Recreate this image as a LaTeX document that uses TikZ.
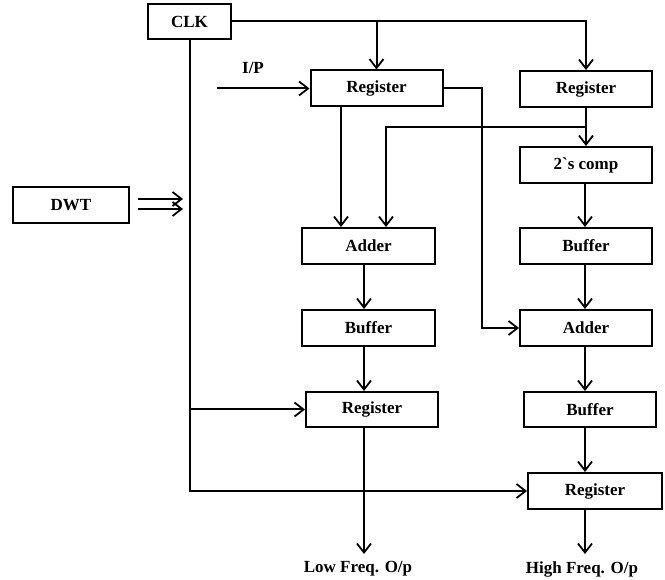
\documentclass[tikz,border=0pt]{standalone}
\usepackage{fontspec}
\setmainfont{Liberation Serif}[Ligatures=TeXOff]
\usetikzlibrary{arrows.meta,calc}
\begin{document}
\begin{tikzpicture}[x=1pt,y=-1pt,
  line width=2pt,
  >={Straight Barb[length=9pt,width=14pt,line width=1.8pt]},
  blk/.style={draw, line width=2pt, inner sep=0pt, minimum height=36pt,
    minimum width=132pt, font=\fontsize{17}{18}\selectfont\bfseries},
  lbl/.style={inner sep=0pt, font=\fontsize{17}{18}\selectfont\bfseries}]
\useasboundingbox (0,0) rectangle (665,580);
% blocks
\node[blk, minimum width=83pt, minimum height=35pt] (clk) at (189.5,21.5) {CLK};
\node[blk] (reg1) at (376.5,88.5) {Register};
\node[blk] (reg2) at (586,89) {Register};
\node[blk] (comp) at (586,165) {2`s comp};
\node[blk, minimum width=116pt] (dwt) at (71,205) {DWT};
\node[blk, minimum width=133pt] (add1) at (368.5,246) {Adder};
\node[blk] (bufr1) at (586,246) {Buffer};
\node[blk, minimum width=133pt] (buf1) at (368.5,328) {Buffer};
\node[blk] (add2) at (586,328) {Adder};
\node[blk, minimum height=35pt] (reg3) at (372,409.5) {Register};
\node[blk, minimum height=35pt] (bufr2) at (590,409.5) {Buffer};
\node[blk, minimum width=134pt] (reg4) at (595,491) {Register};
% labels
\node[lbl] (iplbl) at (253,68) {I/P};
\node[lbl] (lowout) at (358,569) {Low Freq. O/p};
\node[lbl] (highout) at (582,569) {High Freq. O/p};
% helper coordinates
\coordinate (L) at (364,0);
\coordinate (R) at (585,0);
\coordinate (ipin) at (217,88.5);
\coordinate (fb) at (586,127);
\coordinate (dwta) at (138,199);
\coordinate (dwtb) at (138,209);
\coordinate (dwtae) at (183,199);
\coordinate (dwtbe) at (183,209);
\coordinate (lowend) at (364,554);
\coordinate (highend) at (585,554);
% clock lines
\draw[->] (clk.east) -| (reg2.north);
\draw[->] (clk.east -| reg1.north) -- (reg1.north);
\draw[->] (clk.south) |- (reg4.west);
\draw[->] (clk.south |- reg3.west) -- (reg3.west);
% input
\draw[->] (ipin) -- (reg1.west);
% DWT double arrow
\draw[->] (dwta) -- (dwtae);
\draw[->] (dwtb) -- (dwtbe);
% left path
\draw[->] ([xshift=-35.5pt]reg1.south) -- ([xshift=-35.5pt]reg1.south |- add1.north);
\draw[->] (fb) -| ([xshift=17.5pt]add1.north);
\draw[->] (add1.south -| L) -- (buf1.north -| L);
\draw[->] (buf1.south -| L) -- (reg3.north -| L);
\draw[->] (reg3.south -| L) -- (lowend);
% right path
\draw[->] (reg2.south) -- (comp.north);
\draw[->] (reg1.east) -- ++(38.5,0) |- (add2.west);
\draw[->] (comp.south -| R) -- (bufr1.north -| R);
\draw[->] (bufr1.south -| R) -- (add2.north -| R);
\draw[->] (add2.south -| R) -- (bufr2.north -| R);
\draw[->] (bufr2.south -| R) -- (reg4.north -| R);
\draw[->] (reg4.south -| R) -- (highend);
\end{tikzpicture}
\end{document}
